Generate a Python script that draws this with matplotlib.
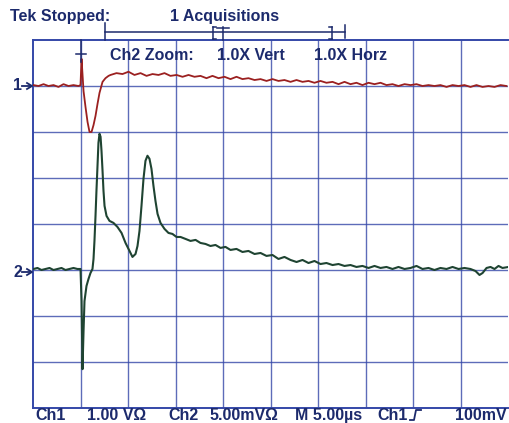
import matplotlib
matplotlib.use("Agg")
import matplotlib.pyplot as plt
from matplotlib.lines import Line2D

plt.rcParams['font.family'] = ['Liberation Sans', 'DejaVu Sans']

# Tek scope screen: 10 x 8 divisions, 5 us/div, trigger 1 div from the left
US_PER_DIV = 5.0
CH1_V_PER_DIV = 1.0     # V
CH2_MV_PER_DIV = 5.0    # mV
TRIG_DIV = 1.0
CH1_REF_DIV = 7.0
CH2_REF_DIV = 3.0

# Ch1 (red) - time in us from trigger, volts from the "1" marker
ch1_t = [-4.95, -4.42, -3.89, -3.37, -2.84, -2.32, -1.79, -1.26, -0.74, -0.21,
         0.00, 0.11, 0.21, 0.32, 0.53, 0.74, 0.95, 1.16, 1.37, 1.58, 1.79, 2.00,
         2.32, 2.63, 2.95,
         3.16, 3.79, 4.42, 5.05, 5.68, 6.32, 6.95, 7.58, 8.21, 8.84, 9.47, 10.11,
         10.74, 11.37, 12.00, 12.63, 13.26, 13.89, 14.53, 15.16, 15.79, 16.42,
         17.05, 17.68, 18.32, 18.95, 19.58, 20.21, 20.84, 21.47, 22.11, 22.74,
         23.37, 24.00, 24.63, 25.26, 25.89, 26.53, 27.16, 27.79, 28.42, 29.05,
         29.68, 30.32, 30.95, 31.58, 32.21, 32.84, 33.47, 34.11, 34.74, 35.37,
         36.00, 36.63, 37.26, 37.89, 38.53, 39.16, 39.79, 40.42, 41.05, 41.68,
         42.32, 42.95, 43.58, 44.21, 44.84]
ch1_v = [0.02, 0.00, 0.04, 0.00, 0.02, -0.02, 0.04, 0.00, 0.02, 0.00,
         0.02, 0.59, 0.26, -0.11, -0.46, -0.78, -1.00, -1.00, -0.85, -0.65, -0.39, -0.15,
         0.09, 0.17, 0.22,
         0.24, 0.28, 0.26, 0.31, 0.24, 0.28, 0.22, 0.26, 0.24, 0.28, 0.22, 0.24,
         0.20, 0.24, 0.20, 0.22, 0.17, 0.22, 0.17, 0.20, 0.15, 0.20,
         0.15, 0.17, 0.13, 0.15, 0.11, 0.15, 0.11, 0.13, 0.09, 0.13,
         0.09, 0.11, 0.07, 0.11, 0.07, 0.09, 0.04, 0.09, 0.04, 0.07,
         0.02, 0.07, 0.04, 0.07, 0.02, 0.04, 0.00, 0.04, 0.02, 0.04,
         0.00, 0.02, 0.00, 0.02, -0.02, 0.02, 0.00, 0.02, -0.02, 0.02,
         -0.02, 0.00, -0.02, 0.02, 0.00]

# Ch2 (green) - time in us from trigger, mV from the "2" marker
ch2_t = [-4.95, -4.53, -4.11, -3.68, -3.26, -2.84, -2.42, -2.00, -1.58, -1.16, -0.74, -0.32,
         0.00, 0.11, 0.21, 0.32, 0.42, 0.63, 0.84, 1.05, 1.26, 1.37, 1.47, 1.58, 1.68,
         1.79, 1.89, 2.00, 2.11, 2.21, 2.32, 2.42, 2.53, 2.74, 3.05, 3.47, 3.89, 4.32,
         4.74, 5.16, 5.47, 5.79, 6.00, 6.21, 6.42, 6.63, 6.84, 7.05, 7.26, 7.47, 7.68,
         7.89, 8.11, 8.42, 8.84, 9.26, 9.68, 10.11, 10.53, 11.05, 11.58, 12.11, 12.63,
         13.16, 13.68, 14.21, 14.74, 15.26, 15.79, 16.42, 17.05, 17.68, 18.32, 18.95,
         19.58, 20.21, 20.84, 21.47, 22.11, 22.74, 23.37, 24.00, 24.63, 25.26, 25.89,
         26.53, 27.16, 27.79, 28.42, 29.05, 29.68, 30.32, 30.95, 31.58, 32.21, 32.84,
         33.47, 34.11, 34.74, 35.37, 36.00, 36.63, 37.26, 37.89, 38.53, 39.16, 39.79,
         40.42, 41.05, 41.58, 42.00, 42.32, 42.74, 43.16, 43.58, 44.00, 44.42, 45.05]
ch2_mv = [0.11, 0.22, 0.00, 0.11, 0.22, 0.00, 0.11, 0.22, 0.00, 0.11, 0.22, 0.11,
          0.11, -3.38, -10.78, -6.64, -3.38, -1.74, -0.98, -0.33, 0.11, 1.20, 3.16, 5.88, 8.61,
          11.33, 13.83, 14.81, 14.49, 12.96, 10.78, 8.61, 6.97, 5.88, 5.34, 5.12, 4.68, 4.03,
          2.94, 2.07, 1.42, 1.74, 2.61, 4.25, 6.97, 9.91, 11.87, 12.42, 12.09, 11.00, 9.15,
          7.52, 6.10, 5.12, 4.47, 4.03, 3.92, 3.59, 3.59, 3.38, 3.16, 3.27, 2.94,
          2.83, 2.61, 2.72, 2.40, 2.51, 2.18, 2.29, 1.96, 2.07, 1.74, 1.85,
          1.53, 1.63, 1.20, 1.42, 1.09, 0.87, 1.09, 0.76, 0.98, 0.65, 0.76,
          0.54, 0.65, 0.44, 0.54, 0.33, 0.44, 0.22, 0.44, 0.22, 0.33, 0.11,
          0.33, 0.11, 0.22, 0.44, 0.11, 0.22, 0.00, 0.22, 0.11, 0.33, 0.11,
          0.22, 0.11, -0.11, -0.54, -0.33, 0.22, 0.33, 0.11, 0.44, 0.22, 0.33]

assert len(ch1_t) == len(ch1_v) and len(ch2_t) == len(ch2_mv)

W, H = 509, 423
GRID_C = '#3447a8'
TEXT_C = '#1c2a6c'
FS = 11.5


def fx(x):
    return x / W


def fy(y):
    return 1 - y / H


fig = plt.figure(figsize=(W / 100, H / 100), dpi=100)
ax = fig.add_axes([fx(33), fy(408), (508 - 33) / W, (408 - 40) / H])
ax.set_xlim(0, 10)
ax.set_ylim(0, 8)
ax.set_xticks([])
ax.set_yticks([])
for i in range(1, 10):
    ax.axvline(i, color=GRID_C, lw=1.0, alpha=0.8, zorder=1)
for j in range(1, 8):
    ax.axhline(j, color=GRID_C, lw=1.0, alpha=0.8, zorder=1)
for side in ['left', 'top', 'bottom']:
    ax.spines[side].set_color(GRID_C)
    ax.spines[side].set_linewidth(1.4)
ax.spines['right'].set_visible(False)

x1 = [TRIG_DIV + t / US_PER_DIV for t in ch1_t]
y1 = [CH1_REF_DIV + v / CH1_V_PER_DIV for v in ch1_v]
x2 = [TRIG_DIV + t / US_PER_DIV for t in ch2_t]
y2 = [CH2_REF_DIV + v / CH2_MV_PER_DIV for v in ch2_mv]
ax.plot(x1, y1, color='#9b2020', lw=1.3, zorder=3)
ax.plot(x2, y2, color='#1f4432', lw=1.5, zorder=3)

txt = dict(fontsize=FS, color=TEXT_C, va='center', fontweight='bold')

# header
fig.text(fx(10), fy(17), 'Tek Stopped:', **txt)
fig.text(fx(170), fy(17), '1 Acquisitions', **txt)
fig.text(fx(110), fy(55), 'Ch2 Zoom:', **txt)
fig.text(fx(217), fy(55), '1.0X Vert', **txt)
fig.text(fx(314), fy(55), '1.0X Horz', **txt)

# record bracket and trigger marker
segs = [((105, 32), (345, 32)), ((105, 23), (105, 40)), ((345, 25), (345, 38)),
        ((223, 27), (223, 40)), ((217, 28), (229, 28)),
        ((213, 27), (213, 39)), ((213, 27), (216, 27)), ((213, 39), (216, 39)),
        ((332, 27), (332, 39)), ((329, 27), (332, 27)), ((329, 39), (332, 39)),
        ((81, 40), (81, 62)), ((76, 54), (86, 54))]
for (xa, ya), (xb, yb) in segs:
    fig.add_artist(Line2D([fx(xa), fx(xb)], [fy(ya), fy(yb)], color=TEXT_C, lw=1.1))

# channel markers
for lab, yy in [('1', 86), ('2', 272)]:
    fig.text(fx(13), fy(yy), lab, **txt)
    fig.add_artist(Line2D([fx(22), fx(31)], [fy(yy), fy(yy)], color=TEXT_C, lw=1.3))
    fig.add_artist(Line2D([fx(27), fx(32), fx(27)], [fy(yy - 3), fy(yy), fy(yy + 3)],
                          color=TEXT_C, lw=1.3))

# footer
footer = [(35, 'Ch1'), (87, '1.00 V\u03a9'), (168, 'Ch2'), (210, '5.00mV\u03a9'),
          (295, 'M 5.00\u00b5s'), (377, 'Ch1'), (455, '100mV')]
for xx, s in footer:
    fig.text(fx(xx), fy(415), s, **txt)
fig.add_artist(Line2D([fx(410), fx(414), fx(416), fx(421)],
                      [fy(420), fy(420), fy(410), fy(410)], color=TEXT_C, lw=1.3))

fig.savefig('out.png', dpi=100)
